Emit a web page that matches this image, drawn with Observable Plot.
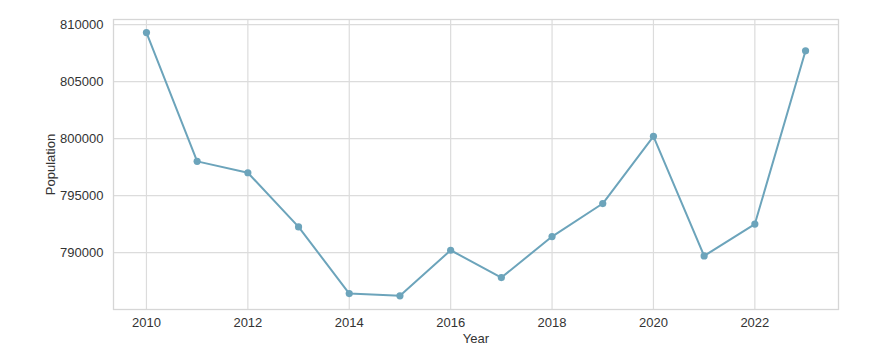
<!DOCTYPE html>
<html>
<head>
<meta charset="utf-8">
<script src="https://cdn.jsdelivr.net/npm/d3@7"></script>
<script src="https://cdn.jsdelivr.net/npm/@observablehq/plot@0.6"></script>
<style>
  html, body { margin: 0; padding: 0; background: #fff; }
  #chart { width: 869px; height: 353px; }
</style>
</head>
<body>
<div id="chart"></div>
<script>
const years = [2010, 2011, 2012, 2013, 2014, 2015, 2016, 2017, 2018, 2019, 2020, 2021, 2022, 2023];
const population = [809300, 798000, 797000, 792250, 786400, 786200, 790200, 787800, 791400, 794300, 800200, 789700, 792500, 807700];
const xTicks = [2010, 2012, 2014, 2016, 2018, 2020, 2022];
const yTicks = [790000, 795000, 800000, 805000, 810000];

const data = years.map((y, i) => ({ year: y, pop: population[i] }));
const lineColor = "#6ca4bb";
const textColor = "#333333";

const chart = Plot.plot({
  width: 869,
  height: 353,
  marginLeft: 113,
  marginRight: 31,
  marginTop: 19,
  marginBottom: 44,
  style: { fontFamily: "'Liberation Sans', Arial, sans-serif", fontSize: "13px", color: textColor, background: "#fff" },
  x: { domain: [2009.35, 2023.65], ticks: xTicks, tickFormat: "d", label: null },
  y: { domain: [785000, 810450], ticks: yTicks, tickFormat: d => String(d), label: null },
  marks: [
    Plot.gridX(xTicks, { stroke: "#dcdcdc", strokeOpacity: 1, strokeWidth: 1.2 }),
    Plot.gridY(yTicks, { stroke: "#dcdcdc", strokeOpacity: 1, strokeWidth: 1.2 }),
    Plot.frame({ stroke: "#d6d6d6", strokeWidth: 1.3 }),
    Plot.axisX(xTicks, { tickSize: 0, tickPadding: 8, tickFormat: "d", fontSize: 13, fill: textColor, label: null }),
    Plot.axisY(yTicks, { tickSize: 0, tickPadding: 10, tickFormat: d => String(d), fontSize: 13, fill: textColor, label: null }),
    Plot.line(data, { x: "year", y: "pop", stroke: lineColor, strokeWidth: 2 }),
    Plot.dot(data, { x: "year", y: "pop", fill: lineColor, r: 3.6, stroke: "none" }),
    Plot.text(["Year"], { frameAnchor: "bottom", dy: 33, fontSize: 13, fill: textColor }),
    Plot.text(["Population"], { frameAnchor: "left", dx: -63, rotate: -90, textAnchor: "middle", fontSize: 13, fill: textColor })
  ]
});
document.getElementById("chart").appendChild(chart);
</script>
</body>
</html>
